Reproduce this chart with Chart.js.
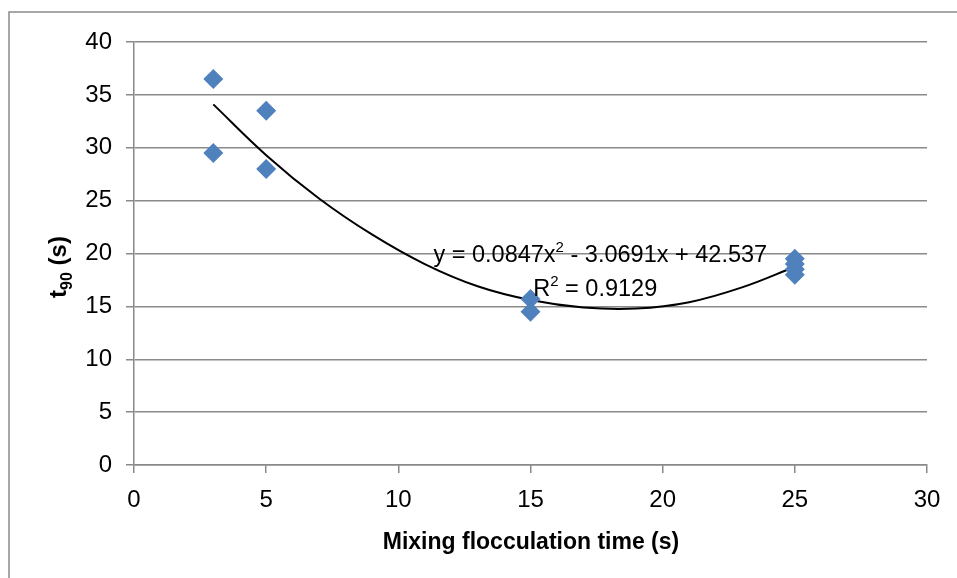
<!DOCTYPE html>
<html>
<head>
<meta charset="utf-8">
<script src="https://cdn.jsdelivr.net/npm/chart.js@4.4.1/dist/chart.umd.min.js"></script>
<style>
  html, body { margin: 0; padding: 0; background: #fff; }
  #wrap { width: 957px; height: 578px; position: relative; }
</style>
</head>
<body>
<div id="wrap"><canvas id="t90chart" width="957" height="578"></canvas></div>
<script>
// measured points (mixing flocculation time vs t90)
var mixTime = [3, 3, 5, 5, 15, 15, 25, 25, 25, 25]
var t90 = [36.5, 29.5, 33.5, 28.0, 15.7, 14.5, 19.5, 19.0, 18.5, 18.0]

// polynomial trendline
var trendX = [3, 5, 7, 9, 11, 13, 15, 17, 19, 21, 23, 25]
var trendY = [34.1, 29.3, 25.2, 21.8, 19.0, 16.9, 15.6, 14.9, 14.8, 15.4, 16.8, 18.75]

var xTitle = 'Mixing flocculation time (s)'
var eqLine1 = ['y = 0.0847x', '2', ' - 3.0691x + 42.537']
var eqLine2 = ['R', '2', ' = 0.9129']

var FONT = '"Liberation Sans", Arial, sans-serif'
var GRID = '#8a8a8a'

var pts = [], trend = []
for (var i = 0; i < mixTime.length; i++) pts.push({x: mixTime[i], y: t90[i]})
for (var i = 0; i < trendX.length; i++) trend.push({x: trendX[i], y: trendY[i]})

// draws text pieces where the middle one is a super/subscript
function drawPieces(ctx, pieces, size, bold, cx, cy, shift) {
    var big = (bold ? 'bold ' : '') + size + 'px ' + FONT
    var small = (bold ? 'bold ' : '') + Math.round(size * 0.65) + 'px ' + FONT
    ctx.font = big; var w0 = ctx.measureText(pieces[0]).width, w2 = ctx.measureText(pieces[2]).width
    ctx.font = small; var w1 = ctx.measureText(pieces[1]).width
    var x = cx - (w0 + w1 + w2) / 2
    ctx.textAlign = 'left'; ctx.textBaseline = 'alphabetic'
    ctx.font = big; ctx.fillText(pieces[0], x, cy)
    ctx.font = small; ctx.fillText(pieces[1], x + w0, cy + shift)
    ctx.font = big; ctx.fillText(pieces[2], x + w0 + w1, cy)
}

var extras = {
    id: 'extras',
    beforeDraw: function(chart) {
        var ctx = chart.ctx
        ctx.save()
        ctx.strokeStyle = GRID
        ctx.lineWidth = 1.5
        ctx.strokeRect(9, 12, 960, 590)
        ctx.restore()
    },
    afterDraw: function(chart) {
        var ctx = chart.ctx, a = chart.chartArea
        var xs = chart.scales.x, ys = chart.scales.y
        ctx.save()
        ctx.fillStyle = '#000'
        // x axis title
        ctx.font = 'bold 23px ' + FONT
        ctx.textAlign = 'center'; ctx.textBaseline = 'middle'
        ctx.fillText(xTitle, 531, 543)
        // y axis title with subscript
        ctx.translate(66, 267)
        ctx.rotate(-Math.PI / 2)
        drawPieces(ctx, ['t', '90', ' (s)'], 24, true, 0, 0, 6)
        ctx.restore()
        // trendline equation
        ctx.save()
        ctx.fillStyle = '#000'
        drawPieces(ctx, eqLine1, 23.5, false, xs.getPixelForValue(17.64), ys.getPixelForValue(19.2), -10)
        drawPieces(ctx, eqLine2, 23.5, false, xs.getPixelForValue(17.45), ys.getPixelForValue(16.0), -10)
        ctx.restore()
    }
}

var ctx = document.getElementById('t90chart').getContext('2d')
var myChart = new Chart(ctx, {
    type: 'scatter',
    data: {
        datasets: [{
            label: 't90',
            data: pts,
            pointStyle: 'rectRot',
            pointRadius: 10,
            pointHoverRadius: 10,
            backgroundColor: '#4f81bd',
            borderColor: '#4f81bd',
            borderWidth: 0,
            order: 1
        }, {
            label: 'Poly. (t90)',
            data: trend,
            type: 'line',
            showLine: true,
            borderColor: '#000',
            borderWidth: 2,
            pointRadius: 0,
            tension: 0.4,
            fill: false,
            order: 2
        }]
    },
    options: {
        responsive: false,
        animation: false,
        layout: { padding: { left: 0, top: 42, right: 30, bottom: 0 } },
        plugins: { legend: { display: false }, tooltip: { enabled: false } },
        scales: {
            x: {
                type: 'linear', min: 0, max: 30,
                ticks: { stepSize: 5, color: '#000', padding: 13, font: { family: FONT, size: 24 } },
                grid: { drawOnChartArea: false, color: GRID, lineWidth: 1.5, tickLength: 8, tickColor: GRID },
                border: { color: GRID, width: 1.5 },
                afterFit: function(s) { s.height = 113 }
            },
            y: {
                min: 0, max: 40,
                ticks: { stepSize: 5, color: '#000', padding: 14, font: { family: FONT, size: 24 } },
                grid: { color: GRID, lineWidth: 1.5, tickLength: 8, tickColor: GRID },
                border: { color: GRID, width: 1.5 },
                afterFit: function(s) { s.width = 134 }
            }
        }
    },
    plugins: [extras]
})
</script>
</body>
</html>
